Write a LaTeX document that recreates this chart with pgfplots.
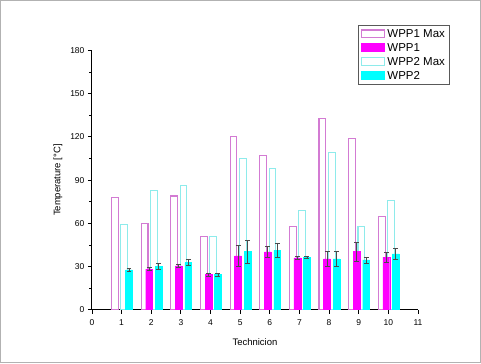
\documentclass[border=0pt]{standalone}
\usepackage{pgfplots}
\pgfplotsset{compat=1.18}
\usepackage{fontspec}
\setmainfont{Liberation Sans}
\definecolor{maxone}{HTML}{D37BD3}
\definecolor{maxtwo}{HTML}{8EEBEB}
\definecolor{wppone}{HTML}{FF00FF}
\definecolor{wpptwo}{HTML}{00FFFF}
\pgfplotsset{
  legmaxone/.style={legend image code/.code={\path[draw=none, fill=maxone] (0pt,-4.5pt) rectangle (25pt,4.5pt); \path[draw=none, fill=white] (1.1pt,-3.4pt) rectangle (23.9pt,3.4pt);}},
  legmaxtwo/.style={legend image code/.code={\path[draw=none, fill=maxtwo] (0pt,-4.5pt) rectangle (25pt,4.5pt); \path[draw=none, fill=white] (1.1pt,-3.4pt) rectangle (23.9pt,3.4pt);}},
  legwppone/.style={legend image code/.code={\path[draw=none, fill=wppone] (0pt,-4.5pt) rectangle (25pt,4.5pt);}},
  legwpptwo/.style={legend image code/.code={\path[draw=none, fill=wpptwo] (0pt,-4.5pt) rectangle (25pt,4.5pt);}},
}
\begin{document}
\begin{tikzpicture}
\draw[gray!60, line width=0.8pt] (-91.7pt,-53pt) rectangle (389.3pt,310pt);
\begin{axis}[
  at={(0,0)}, anchor=origin,
  scale only axis, width=326.6pt, height=260pt,
  xmin=0, xmax=11, ymin=0, ymax=180,
  axis x line*=bottom, axis y line*=left,
  axis line style={line width=0.9pt, -},
  xtick={0,...,11}, ytick={0,30,...,180},
  minor y tick num=1,
  tick align=outside,
  major tick length=4pt, minor tick length=2.5pt,
  tick style={line width=0.8pt, black},
  ticklabel style={font=\fontsize{8.5}{10}\selectfont},
  xticklabel style={yshift=-2pt},
  /pgf/number format/assume math mode=true,
  xlabel={Technicion}, ylabel={Temperature [°C]},
  label style={font=\fontsize{9.5}{11}\selectfont},
  xlabel style={yshift=-6pt},
  ylabel style={yshift=1pt},
  legend cell align=left,
  legend style={at={(0.815,1.096)}, anchor=north west, draw=gray!70!black, line width=0.7pt,
    font=\fontsize{11.5}{13}\selectfont, row sep=0.5pt, inner xsep=2.5pt, inner ysep=1.5pt},
  error bars/error bar style={black!70, line width=0.6pt},
  error bars/error mark options={rotate=90, mark size=2.5pt, black!70, line width=0.6pt},
]
\addplot[ybar, forget plot, bar width=0.23, bar shift=0, draw=maxone, fill=white, line width=1.1pt]
  coordinates {(0.775,78) (1.775,60) (2.775,79) (3.775,51) (4.775,120) (5.775,107) (6.775,58) (7.775,133) (8.775,119) (9.775,65)};
\addplot[ybar, forget plot, bar width=0.23, bar shift=0, draw=maxtwo, fill=white, line width=1.1pt]
  coordinates {(1.09,59) (2.09,83) (3.09,86) (4.09,51) (5.09,105) (6.09,98) (7.09,69) (8.09,109) (9.09,58) (10.09,76)};
\addplot[ybar, forget plot, bar width=0.23, bar shift=0, draw=wppone, fill=wppone,
  error bars/.cd, y dir=both, y explicit]
  coordinates {(1.93,28.2) +- (0,1) (2.93,30.5) +- (0,1) (3.93,24.5) +- (0,1) (4.93,37.4) +- (0,7.5)
   (5.93,40.2) +- (0,4) (6.93,36) +- (0,1) (7.93,35.3) +- (0,5) (8.93,40.4) +- (0,6.7) (9.93,36.5) +- (0,3.3)};
\addplot[ybar, forget plot, bar width=0.23, bar shift=0, draw=wpptwo, fill=wpptwo,
  error bars/.cd, y dir=both, y explicit]
  coordinates {(1.25,27.7) +- (0,1) (2.25,30) +- (0,2) (3.25,32.8) +- (0,2) (4.25,24.5) +- (0,1) (5.25,40.4) +- (0,8)
   (6.25,41.5) +- (0,5) (7.25,36.5) +- (0,1) (8.25,35.3) +- (0,5) (9.25,34.6) +- (0,2) (10.25,38.8) +- (0,3.9)};
\addlegendimage{legmaxone}
\addlegendentry{WPP1 Max}
\addlegendimage{legwppone}
\addlegendentry{WPP1}
\addlegendimage{legmaxtwo}
\addlegendentry{WPP2 Max}
\addlegendimage{legwpptwo}
\addlegendentry{WPP2}
\end{axis}
\end{tikzpicture}
\end{document}
